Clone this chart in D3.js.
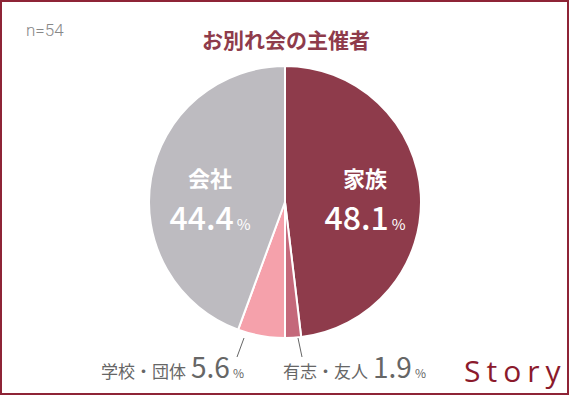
<!DOCTYPE html>
<html><head><meta charset="utf-8">
<script src="https://cdn.jsdelivr.net/npm/d3@7"></script>
<style>body{margin:0;background:#fff}svg{display:block}</style>
</head><body>
<svg id="c" width="570" height="398"></svg>
<script>
const categories = ["家族", "有志・友人", "学校・団体", "会社"];
const values = [48.1, 1.9, 5.6, 44.4];
const colors = ["#8e3b4b", "#c4687a", "#f5a1ab", "#bdbbc0"];
const title = "お別れ会の主催者";
const note = "n=54";

const svg = d3.select("#c");
const font = "'Noto Sans CJK JP','Noto Sans',sans-serif";
svg.append("rect").attr("x",1).attr("y",1).attr("width",567).attr("height",393)
  .attr("fill","#fff").attr("stroke","#8e2436").attr("stroke-width",2);

svg.append("text").attr("x",26).attr("y",36).text(note)
  .attr("font-family","Roboto,'Noto Sans',sans-serif").attr("font-weight",300)
  .attr("font-size",17).attr("fill","#888");
svg.append("text").attr("x",286).attr("y",48).attr("text-anchor","middle").text(title)
  .attr("font-family",font).attr("font-size",21).attr("font-weight","bold").attr("fill","#8e3b4b");

const cx=285, cy=202, r=136;
const pie = d3.pie().sort(null).value(d=>d)(values);
const arc = d3.arc().innerRadius(0).outerRadius(r);
const g = svg.append("g").attr("transform",`translate(${cx},${cy})`);
g.selectAll("path").data(pie).join("path").attr("d",arc)
  .attr("fill",(d,i)=>colors[i]).attr("stroke","#fff").attr("stroke-width",2);

// inner labels
const inner = [{i:0,x:365},{i:3,x:210}];
inner.forEach(o=>{
  svg.append("text").attr("x",o.x).attr("y",187).attr("text-anchor","middle")
    .attr("font-family",font).attr("font-size",22).attr("font-weight","bold").attr("fill","#fff")
    .text(categories[o.i]);
  const t2 = svg.append("text").attr("x",o.x).attr("y",230).attr("text-anchor","middle")
    .attr("font-family",font).attr("fill","#fff");
  t2.append("tspan").attr("font-size",32).attr("font-weight","500").text(values[o.i].toFixed(1));
  t2.append("tspan").attr("font-size",15).attr("dx",3).text("%");
});

// outer labels with leader lines
const outer = [{i:2, lx:101, line:[[-41,136],[-48,155]]},{i:1, lx:283, line:[[13,136],[17,155]]}];
outer.forEach(o=>{
  svg.append("line").attr("x1",cx+o.line[0][0]).attr("y1",cy+o.line[0][1])
    .attr("x2",cx+o.line[1][0]).attr("y2",cy+o.line[1][1])
    .attr("stroke","#666").attr("stroke-width",1);
  const t = svg.append("text").attr("x",o.lx).attr("y",378).attr("font-family",font).attr("fill","#666");
  t.append("tspan").attr("font-size",17).text(categories[o.i]);
  t.append("tspan").attr("font-size",28).attr("dx",5).text(values[o.i].toFixed(1));
  t.append("tspan").attr("font-size",12).attr("dx",3).text("%");
});

svg.append("text").attr("x",464).attr("y",382).text("Story")
  .attr("font-family","'Open Sans',Lato,sans-serif").attr("font-size",30)
  .attr("letter-spacing",6).attr("fill","#8b1a2c");
</script>
</body></html>
